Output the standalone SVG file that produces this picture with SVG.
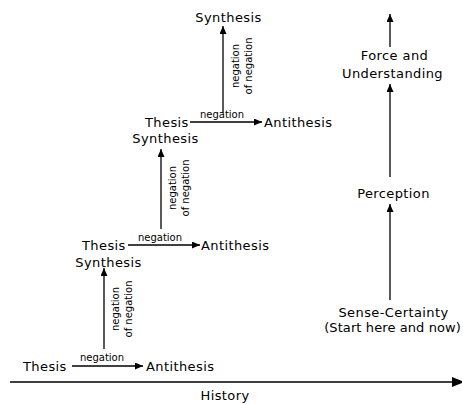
<svg xmlns="http://www.w3.org/2000/svg" width="463" height="404" viewBox="0 0 463 404">
<defs>
<marker id="ah" markerWidth="9" markerHeight="7" refX="8" refY="3.5" orient="auto" markerUnits="userSpaceOnUse">
<path d="M0,0 L8,3.5 L0,7 z" fill="#000"/>
</marker>
<marker id="ahBig" markerWidth="11" markerHeight="10" refX="10" refY="5" orient="auto" markerUnits="userSpaceOnUse">
<path d="M0,0 L10,4 L10,6 L0,10 z" fill="#000"/>
</marker>
</defs>
<style>
.t{font-family:"DejaVu Sans",Verdana,sans-serif;font-size:13px;letter-spacing:0.4px;fill:#000}
.s{font-family:"DejaVu Sans",Verdana,sans-serif;font-size:10px;fill:#000}
.c{text-anchor:middle}
.l{stroke:#000;stroke-width:1.3;fill:none}
</style>
<rect width="463" height="404" fill="#fff"/>
<g id="connectors">
<line class="l" x1="10" y1="382" x2="462" y2="382" stroke-width="2" marker-end="url(#ahBig)"/>
<line class="l" x1="72" y1="366" x2="143" y2="366" marker-end="url(#ah)"/>
<line class="l" x1="128" y1="245" x2="200" y2="245" marker-end="url(#ah)"/>
<line class="l" x1="190" y1="122" x2="262" y2="122" marker-end="url(#ah)"/>
<line class="l" x1="104" y1="349" x2="104" y2="268" marker-end="url(#ah)"/>
<line class="l" x1="161" y1="229" x2="161" y2="149" marker-end="url(#ah)"/>
<line class="l" x1="223" y1="113" x2="223" y2="26" marker-end="url(#ah)"/>
<line class="l" x1="390" y1="47" x2="390" y2="14" marker-end="url(#ah)"/>
<line class="l" x1="390" y1="177" x2="390" y2="84" marker-end="url(#ah)"/>
<line class="l" x1="390" y1="300" x2="390" y2="204" marker-end="url(#ah)"/>
<text class="s c" x="102" y="361">negation</text>
<text class="s c" x="160" y="241">negation</text>
<text class="s c" x="222" y="118">negation</text>
<g transform="translate(119,309) rotate(-90)"><text class="s c" x="0" y="0">negation</text><text class="s c" x="0" y="13">of negation</text></g>
<g transform="translate(176,188) rotate(-90)"><text class="s c" x="0" y="0">negation</text><text class="s c" x="0" y="13">of negation</text></g>
<g transform="translate(239,66) rotate(-90)"><text class="s c" x="0" y="0">negation</text><text class="s c" x="0" y="13">of negation</text></g>
</g>
<g id="thesis1"><text class="t" x="23" y="371">Thesis</text></g>
<g id="antithesis1"><text class="t" x="146" y="371">Antithesis</text></g>
<g id="thesis2"><text class="t" x="82" y="250">Thesis</text><text class="t c" x="108.5" y="267">Synthesis</text></g>
<g id="antithesis2"><text class="t" x="201" y="250">Antithesis</text></g>
<g id="thesis3"><text class="t" x="145" y="127">Thesis</text><text class="t c" x="165.5" y="143">Synthesis</text></g>
<g id="antithesis3"><text class="t" x="264" y="127">Antithesis</text></g>
<g id="synthesis4"><text class="t c" x="228.5" y="22">Synthesis</text></g>
<g id="history"><text class="t c" x="225" y="400">History</text></g>
<g id="force"><text class="t c" x="394.5" y="60">Force and</text><text class="t c" x="392.5" y="78">Understanding</text></g>
<g id="perception"><text class="t c" x="393.5" y="198">Perception</text></g>
<g id="sense"><text class="t c" x="393.5" y="317">Sense-Certainty</text><text class="t" x="461" y="332" style="text-anchor:end;letter-spacing:0.1px">(Start here and now)</text></g>
</svg>
